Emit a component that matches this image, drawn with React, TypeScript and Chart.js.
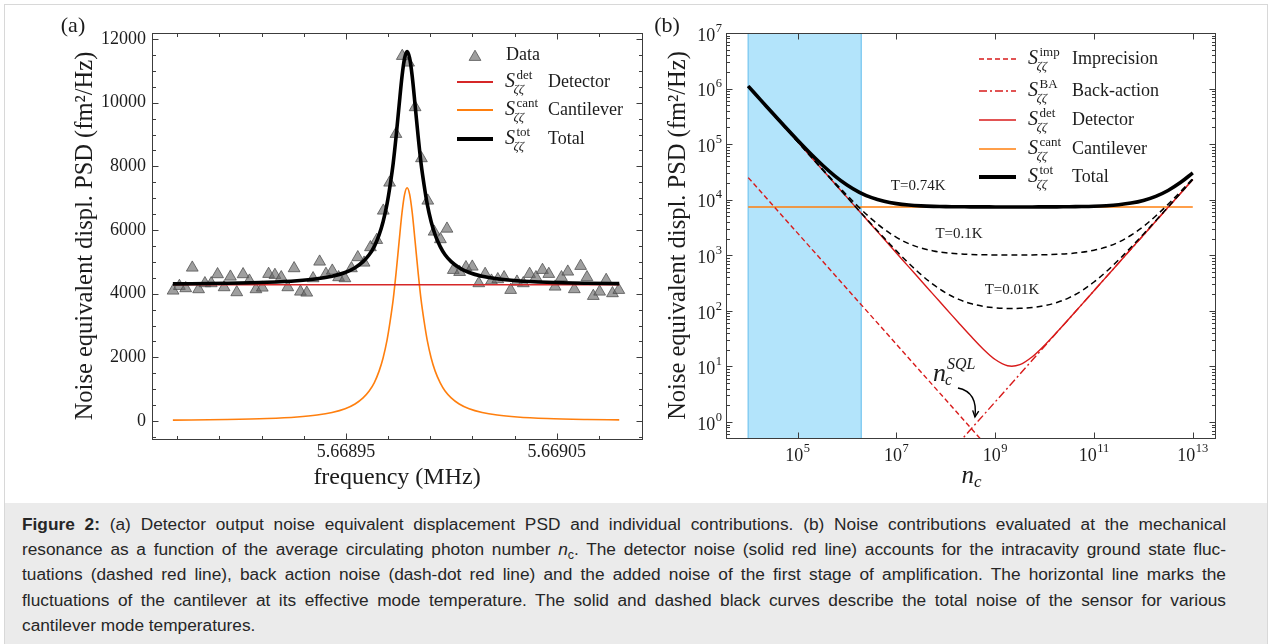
import React, { useEffect, useRef } from "react";
import { Chart, registerables } from "chart.js";

Chart.register(...registerables);

// ================= Panel (a) data =================
const dataFreq = [
  5.668868, 5.668871, 5.668874, 5.6688771, 5.6688801, 5.6688831, 5.6688861, 5.6688891, 5.6688922, 5.6688952,
  5.6688982, 5.6689012, 5.6689042, 5.6689073, 5.6689103, 5.6689133, 5.6689163, 5.6689193, 5.6689224, 5.6689254,
  5.6689284, 5.6689314, 5.6689344, 5.6689375, 5.6689405, 5.6689435, 5.6689465, 5.6689495, 5.6689526, 5.6689556,
  5.6689586, 5.6689616, 5.6689646, 5.6689677, 5.6689707, 5.6689737, 5.6689767, 5.6689797, 5.6689828, 5.6689858,
  5.6689888, 5.6689918, 5.6689948, 5.6689979, 5.6690009, 5.6690039, 5.6690069, 5.6690099, 5.669013, 5.669016,
  5.669019, 5.669022, 5.669025, 5.6690281, 5.6690311, 5.6690341, 5.6690371, 5.6690401, 5.6690432, 5.6690462,
  5.6690492, 5.6690522, 5.6690552, 5.6690583, 5.6690613, 5.6690643, 5.6690673, 5.6690703, 5.6690734, 5.6690764,
  5.6690794,
];
const dataPsd = [
  4094, 4241, 4169, 4816, 4137, 4326, 4326, 4609, 4200, 4534,
  4043, 4609, 4408, 4137, 4188, 4619, 4587, 4515, 4200, 4797,
  4062, 4031, 4483, 5005, 4619, 4722, 4515, 4483, 4797, 5143,
  4973, 5457, 5687, 6607, 7487, 9017, 11467, 11257, 9856, 8253,
  6921, 5947, 5709, 6041, 4744, 4680, 4830, 4848, 4326, 4619,
  4408, 4452, 4515, 4116, 4376, 4326, 4619, 4515, 4744, 4619,
  4219, 4515, 4691, 4138, 4870, 4515, 3927, 4062, 4430, 4012,
  4116,
];
const fitFreq = [
  5.6688679, 5.6688936, 5.6689126, 5.6689268, 5.6689363, 5.6689434, 5.6689496, 5.6689543, 5.6689581, 5.668961,
  5.6689634, 5.6689657, 5.6689676, 5.6689695, 5.6689709, 5.6689724, 5.6689738, 5.6689752, 5.6689766, 5.6689778,
  5.668979,
  5.6689802, 5.6689814, 5.6689828, 5.6689842, 5.6689856, 5.6689871, 5.6689885, 5.6689904, 5.6689923, 5.6689947,
  5.668997, 5.6689999, 5.6690037, 5.6690084, 5.6690146, 5.6690217, 5.6690312, 5.6690454, 5.6690644, 5.6690796,
];
const fitCantilever = [
  28.4, 47.9, 78.9, 126.9, 188, 267.6, 385.2, 535.4, 727, 942.9,
  1200, 1567, 1980, 2548, 3111, 3819, 4676, 5637, 6560, 7121,
  7330,
  7121, 6560, 5637, 4676, 3819, 3111, 2548, 1980, 1567, 1200,
  942.9, 727, 535.4, 385.2, 267.6, 188, 126.9, 78.9, 47.9, 34.6,
];
const fitTotal = [
  4308, 4328, 4359, 4407, 4468, 4548, 4665, 4815, 5007, 5223,
  5480, 5847, 6260, 6828, 7391, 8099, 8956, 9917, 10840, 11401,
  11610,
  11401, 10840, 9917, 8956, 8099, 7391, 6828, 6260, 5847, 5480,
  5223, 5007, 4815, 4665, 4548, 4468, 4407, 4359, 4328, 4315,
];
const detectorFreq = [5.668868, 5.6690796];
const detectorPsd = [4280, 4280];
const aXTicks = [5.66895, 5.66905];
const aXMinor = [5.66887, 5.66889, 5.66891, 5.66893, 5.66897, 5.66899, 5.66901, 5.66903, 5.66907];
const aYTicks = [0, 2000, 4000, 6000, 8000, 10000, 12000];
const aYMinor = [-500, 500, 1000, 1500, 2500, 3000, 3500, 4500, 5000, 5500, 6500, 7000, 7500, 8500, 9000, 9500, 10500, 11000, 11500];

// ================= Panel (b) data =================
const ncGrid = [
  1e4, 1.778e4, 3.162e4, 5.623e4, 1e5, 1.778e5, 3.162e5, 5.623e5, 1e6, 1.778e6,
  3.162e6, 5.623e6, 1e7, 1.778e7, 3.162e7, 5.623e7, 1e8, 1.778e8, 3.162e8, 5.623e8,
  1e9, 1.778e9, 3.162e9, 5.623e9, 1e10, 1.778e10, 3.162e10, 5.623e10, 1e11, 1.778e11,
  3.162e11, 5.623e11, 1e12, 1.778e12, 3.162e12, 5.623e12, 1e13,
];
const sDetector = [
  1.1e6, 6.19e5, 3.48e5, 1.956e5, 1.1e5, 6.19e4, 3.48e4, 1.956e4, 1.1e4, 6185,
  3479, 1956, 1100, 618.5, 348, 195.7, 110.2, 62.26, 35.5, 20.85,
  13.3, 10.28, 10.75, 14.89, 24.1, 41.5, 73.1, 129.5, 230.1, 409,
  727, 1293, 2300, 4090, 7273, 12934, 23000,
];
const sTotal074 = [
  1107400, 625900, 355300, 203000, 117400, 69250, 42190, 26960, 18400, 13585,
  10879, 9356, 8500, 8018, 7748, 7596, 7510, 7462, 7436, 7421,
  7413, 7410, 7411, 7415, 7424, 7442, 7473, 7530, 7630, 7809,
  8127, 8693, 9700, 11490, 14673, 20334, 30400,
];
const sTotal01 = [
  1101000, 619500, 348900, 196600, 111000, 62850, 35790, 20560, 12000, 7185,
  4479, 2956, 2100, 1618, 1348, 1196, 1110, 1062, 1036, 1021,
  1013, 1010, 1011, 1015, 1024, 1042, 1073, 1130, 1230, 1409,
  1727, 2293, 3300, 5090, 8273, 13934, 24000,
];
const sTotal001 = [
  1100100, 618600, 348000, 195700, 110100, 61950, 34890, 19660, 11100, 6285,
  3579, 2056, 1200, 718.5, 448, 295.7, 210.2, 162.3, 135.5, 120.9,
  113.3, 110.3, 110.8, 114.9, 124.1, 141.5, 173.1, 229.5, 330.1, 509,
  827, 1393, 2400, 4190, 7373, 13034, 23100,
];
const impNc = [1e4, 1e9];
const impS = [2.5e4, 0.25];
const baNc = [1e8, 1e13];
const baS = [0.23, 23000];
const cantNc = [1e4, 1e13];
const cantS = [7400, 7400];
const bandNc = [1e4, 1.94e6];
const bXTicks = [1e5, 1e7, 1e9, 1e11, 1e13];
const bXExp = ["5", "7", "9", "11", "13"];
const bYTicks = [1, 10, 100, 1e3, 1e4, 1e5, 1e6, 1e7];
const bYExp = ["0", "1", "2", "3", "4", "5", "6", "7"];
const bYMinor: number[] = [0.6, 0.7, 0.8, 0.9];
for (let d = 0; d < 7; d++) for (let m = 2; m < 10; m++) bYMinor.push(m * Math.pow(10, d));

// ================= helpers =================
const SERIF = '"Liberation Serif", "Times New Roman", serif';
const INK = "#1c1c1c";
const RED_A = "#d62728";
const RED_B = "#d81b1b";
const ORANGE = "#ff7f0e";
const TRI_FILL = "rgba(100,100,100,0.62)";
const TRI_EDGE = "rgba(75,75,75,0.75)";

function setFont(ctx: CanvasRenderingContext2D, size: number, style = "") {
  ctx.font = `${style} ${size}px ${SERIF}`.trim();
}

function pts(xs: number[], ys: number[]) {
  return xs.map((x, i) => ({ x, y: ys[i] }));
}

function drawFrame(chart: any, xMaj: number[], xMin: number[], yMaj: number[], yMin: number[]) {
  const { ctx, chartArea: a, scales } = chart;
  const xs = scales.x;
  const ys = scales.y;
  const L = Math.round(a.left) + 0.5;
  const R = Math.round(a.right) + 0.5;
  const T = Math.round(a.top) + 0.5;
  const B = Math.round(a.bottom) + 0.5;
  ctx.save();
  ctx.strokeStyle = "#3c3c3c";
  ctx.lineWidth = 1;
  ctx.strokeRect(L, T, R - L, B - T);
  ctx.beginPath();
  const xt = (vals: number[], len: number) => {
    vals.forEach((v) => {
      const p = Math.round(xs.getPixelForValue(v)) + 0.5;
      if (p <= L + 1 || p >= R - 1) return;
      ctx.moveTo(p, B); ctx.lineTo(p, B - len);
      ctx.moveTo(p, T); ctx.lineTo(p, T + len);
    });
  };
  const yt = (vals: number[], len: number) => {
    vals.forEach((v) => {
      const p = Math.round(ys.getPixelForValue(v)) + 0.5;
      if (p <= T + 1 || p >= B - 1) return;
      ctx.moveTo(L, p); ctx.lineTo(L + len, p);
      ctx.moveTo(R, p); ctx.lineTo(R - len, p);
    });
  };
  xt(xMaj, 6); xt(xMin, 3.5); yt(yMaj, 6); yt(yMin, 3.5);
  ctx.stroke();
  ctx.restore();
}

function drawS(ctx: CanvasRenderingContext2D, x: number, y: number, sup: string) {
  ctx.textAlign = "left";
  ctx.textBaseline = "middle";
  setFont(ctx, 20, "italic");
  ctx.fillText("S", x, y);
  const w = ctx.measureText("S").width;
  setFont(ctx, 13);
  ctx.fillText(sup, x + w + 1.5, y - 6.5);
  setFont(ctx, 13, "italic");
  ctx.fillText("ζζ", x + w - 1.5, y + 7.5);
}

function drawPow(ctx: CanvasRenderingContext2D, x: number, y: number, exp: string, align: "right" | "center") {
  setFont(ctx, 18);
  const wb = ctx.measureText("10").width;
  setFont(ctx, 12.5);
  const we = ctx.measureText(exp).width;
  const total = wb + we + 0.5;
  const x0 = align === "right" ? x - total : x - total / 2;
  ctx.textAlign = "left";
  ctx.textBaseline = "middle";
  setFont(ctx, 18);
  ctx.fillText("10", x0, y + 3);
  setFont(ctx, 12.5);
  ctx.fillText(exp, x0 + wb + 0.5, y - 4.5);
}

function triangle(ctx: CanvasRenderingContext2D, x: number, y: number, r: number) {
  ctx.beginPath();
  ctx.moveTo(x, y - r);
  ctx.lineTo(x + r * 0.866, y + r * 0.5);
  ctx.lineTo(x - r * 0.866, y + r * 0.5);
  ctx.closePath();
  ctx.fillStyle = TRI_FILL;
  ctx.fill();
  ctx.strokeStyle = TRI_EDGE;
  ctx.lineWidth = 1;
  ctx.stroke();
}

function legendLine(ctx: CanvasRenderingContext2D, x1: number, x2: number, y: number, color: string, w: number, dash: number[] = []) {
  ctx.save();
  ctx.strokeStyle = color;
  ctx.lineWidth = w;
  ctx.setLineDash(dash);
  ctx.beginPath();
  ctx.moveTo(x1, y);
  ctx.lineTo(x2, y);
  ctx.stroke();
  ctx.restore();
}

// ================= plugins =================
const panelAPlugin = {
  id: "panelA",
  afterDatasetsDraw(chart: any) {
    drawFrame(chart, aXTicks, aXMinor, aYTicks, aYMinor);
  },
  afterDraw(chart: any) {
    const { ctx, chartArea: a, scales } = chart;
    const xs = scales.x;
    const ys = scales.y;
    ctx.save();
    ctx.fillStyle = INK;
    setFont(ctx, 18);
    ctx.textAlign = "right";
    ctx.textBaseline = "middle";
    aYTicks.forEach((v) => ctx.fillText(String(v), a.left - 6, ys.getPixelForValue(v)));
    ctx.textAlign = "center";
    aXTicks.forEach((v) => ctx.fillText(v.toFixed(5), xs.getPixelForValue(v), a.bottom + 13));
    setFont(ctx, 24);
    ctx.fillText("frequency (MHz)", (a.left + a.right) / 2, a.bottom + 39);
    ctx.save();
    ctx.translate(86, (a.top + a.bottom) / 2);
    ctx.rotate(-Math.PI / 2);
    setFont(ctx, 24.5);
    ctx.fillText("Noise equivalent displ. PSD (fm²/Hz)", 0, 0);
    ctx.restore();
    setFont(ctx, 22);
    ctx.fillText("(a)", 73, 26);

    // legend
    triangle(ctx, 475, 57, 6.8);
    ctx.fillStyle = INK;
    setFont(ctx, 18);
    ctx.textAlign = "left";
    ctx.fillText("Data", 506, 55);
    const rows: [number, string, string, string, number][] = [
      [82, RED_A, "det", "Detector", 1.8],
      [110, ORANGE, "cant", "Cantilever", 1.8],
      [139, "#000", "tot", "Total", 4],
    ];
    rows.forEach(([y, c, sup, lab, w]) => {
      legendLine(ctx, 457, 493, y, c, w);
      ctx.fillStyle = INK;
      drawS(ctx, 505, y, sup);
      setFont(ctx, 18);
      ctx.textAlign = "left";
      ctx.fillText(lab, 548, y);
    });
    ctx.restore();
  },
};

const LX = (v: number) => Math.pow(10, v);

const panelBPlugin = {
  id: "panelB",
  beforeDatasetsDraw(chart: any) {
    const { ctx, chartArea: a, scales } = chart;
    const xs = scales.x;
    const l = xs.getPixelForValue(bandNc[0]);
    const r = xs.getPixelForValue(bandNc[1]);
    ctx.save();
    ctx.fillStyle = "#b3e4fb";
    ctx.fillRect(l, a.top, r - l, a.bottom - a.top);
    ctx.strokeStyle = "#86cdf2";
    ctx.lineWidth = 1.5;
    ctx.beginPath();
    ctx.moveTo(l, a.top); ctx.lineTo(l, a.bottom);
    ctx.moveTo(r, a.top); ctx.lineTo(r, a.bottom);
    ctx.stroke();
    ctx.restore();
  },
  afterDatasetsDraw(chart: any) {
    drawFrame(chart, bXTicks, [], bYTicks, bYMinor);
  },
  afterDraw(chart: any) {
    const { ctx, chartArea: a, scales } = chart;
    const xs = scales.x;
    const ys = scales.y;
    const P = (lx: number, ly: number) => [xs.getPixelForValue(LX(lx)), ys.getPixelForValue(LX(ly))];
    ctx.save();
    ctx.fillStyle = INK;
    bYTicks.forEach((v, i) => drawPow(ctx, a.left - 4, ys.getPixelForValue(v), bYExp[i], "right"));
    bXTicks.forEach((v, i) => drawPow(ctx, xs.getPixelForValue(v), a.bottom + 15, bXExp[i], "center"));

    // x title n_c
    const cx = (a.left + a.right) / 2;
    setFont(ctx, 25, "italic");
    ctx.textAlign = "left";
    ctx.textBaseline = "middle";
    const wn = ctx.measureText("n").width;
    ctx.fillText("n", cx - 9, a.bottom + 38);
    setFont(ctx, 17, "italic");
    ctx.fillText("c", cx - 9 + wn, a.bottom + 45);

    // y title
    setFont(ctx, 24.5);
    ctx.textAlign = "center";
    ctx.save();
    ctx.translate(29, (a.top + a.bottom) / 2);
    ctx.rotate(-Math.PI / 2);
    ctx.fillText("Noise equivalent displ. PSD (fm²/Hz)", 0, 0);
    ctx.restore();
    setFont(ctx, 22);
    ctx.fillText("(b)", 17, 26);

    // temperature labels
    setFont(ctx, 15);
    ctx.textAlign = "center";
    const t1 = P(7.44, 4.247);
    ctx.fillText("T=0.74K", t1[0], t1[1]);
    const t2 = P(8.267, 3.383);
    ctx.fillText("T=0.1K", t2[0], t2[1]);
    const t3 = P(9.34, 2.375);
    ctx.fillText("T=0.01K", t3[0], t3[1]);

    // n_c^SQL annotation
    const nq = P(7.74, 0.864);
    ctx.textAlign = "left";
    setFont(ctx, 26, "italic");
    const wq = ctx.measureText("n").width;
    ctx.fillText("n", nq[0], nq[1]);
    setFont(ctx, 16, "italic");
    ctx.fillText("c", nq[0] + wq - 1, nq[1] + 7);
    ctx.fillText("SQL", nq[0] + wq + 1, nq[1] - 9);

    // arrow
    const s = P(8.246, 0.612);
    const c = P(8.651, 0.54);
    const e = P(8.59, 0.09);
    ctx.strokeStyle = "#000";
    ctx.lineWidth = 1.4;
    ctx.beginPath();
    ctx.moveTo(s[0], s[1]);
    ctx.quadraticCurveTo(c[0], c[1], e[0], e[1]);
    ctx.stroke();
    const ang = Math.atan2(e[1] - c[1], e[0] - c[0]);
    ctx.beginPath();
    ctx.moveTo(e[0] - 7 * Math.cos(ang - 0.45), e[1] - 7 * Math.sin(ang - 0.45));
    ctx.lineTo(e[0], e[1]);
    ctx.lineTo(e[0] - 7 * Math.cos(ang + 0.45), e[1] - 7 * Math.sin(ang + 0.45));
    ctx.stroke();

    // legend
    const rows: [number, string, number, number[], string, string][] = [
      [59, RED_B, 1.5, [5, 3], "imp", "Imprecision"],
      [91, RED_B, 1.5, [8, 3, 2, 3], "BA", "Back-action"],
      [120, RED_B, 1.5, [], "det", "Detector"],
      [149, ORANGE, 1.5, [], "cant", "Cantilever"],
      [177, "#000", 4, [], "tot", "Total"],
    ];
    rows.forEach(([y, col, w, dash, sup, lab]) => {
      legendLine(ctx, 329, 366, y, col, w, dash);
      ctx.fillStyle = INK;
      drawS(ctx, 378, y, sup);
      setFont(ctx, 18);
      ctx.textAlign = "left";
      ctx.fillText(lab, 422, y);
    });
    ctx.restore();
  },
};

function hiddenAxis(extra: any, fit: (s: any) => void) {
  return {
    ...extra,
    ticks: { display: false },
    grid: { display: false, drawTicks: false },
    border: { display: false },
    afterFit: fit,
  };
}

export default function App() {
  const refA = useRef<HTMLCanvasElement>(null);
  const refB = useRef<HTMLCanvasElement>(null);

  useEffect(() => {
    const line = (data: any, color: string, width: number, extra: any = {}) => ({
      data,
      borderColor: color,
      backgroundColor: color,
      borderWidth: width,
      pointRadius: 0,
      fill: false,
      ...extra,
    });

    const chartA = new Chart(refA.current as HTMLCanvasElement, {
      type: "line",
      data: {
        datasets: [
          line(pts(fitFreq, fitTotal), "#000", 3.6, { cubicInterpolationMode: "monotone" }),
          line(pts(detectorFreq, detectorPsd), RED_A, 1.6),
          line(pts(fitFreq, fitCantilever), ORANGE, 1.6, { cubicInterpolationMode: "monotone" }),
          {
            data: pts(dataFreq, dataPsd),
            showLine: false,
            pointStyle: "triangle",
            pointRadius: 6.8,
            pointBackgroundColor: TRI_FILL,
            pointBorderColor: TRI_EDGE,
            pointBorderWidth: 1,
          },
        ] as any,
      },
      options: {
        responsive: false,
        animation: false,
        devicePixelRatio: 1,
        layout: { padding: { top: 33, right: 8, left: 0, bottom: 0 } },
        plugins: { legend: { display: false }, tooltip: { enabled: false } },
        scales: {
          x: hiddenAxis({ type: "linear", min: 5.668858, max: 5.6690904 }, (s: any) => { s.height = 61; }),
          y: hiddenAxis({ type: "linear", min: -565, max: 12190 }, (s: any) => { s.width = 152; }),
        },
      } as any,
      plugins: [panelAPlugin],
    });

    const smooth = { tension: 0.35 };
    const chartB = new Chart(refB.current as HTMLCanvasElement, {
      type: "line",
      data: {
        datasets: [
          line(pts(ncGrid, sTotal074), "#000", 3.6, smooth),
          line(pts(ncGrid, sTotal01), "#000", 1.5, { ...smooth, borderDash: [6, 4] }),
          line(pts(ncGrid, sTotal001), "#000", 1.5, { ...smooth, borderDash: [6, 4] }),
          line(pts(ncGrid, sDetector), RED_B, 1.4, smooth),
          line(pts(baNc, baS), RED_B, 1.4, { borderDash: [8, 3, 2, 3] }),
          line(pts(impNc, impS), RED_B, 1.4, { borderDash: [5, 3] }),
          line(pts(cantNc, cantS), ORANGE, 1.6),
        ] as any,
      },
      options: {
        responsive: false,
        animation: false,
        devicePixelRatio: 1,
        layout: { padding: { top: 33, right: 57, left: 0, bottom: 0 } },
        plugins: { legend: { display: false }, tooltip: { enabled: false } },
        scales: {
          x: hiddenAxis({ type: "logarithmic", min: 3548, max: 2.818e13 }, (s: any) => { s.height = 62; }),
          y: hiddenAxis({ type: "logarithmic", min: 0.515, max: 1e7 }, (s: any) => { s.width = 76; }),
        },
      } as any,
      plugins: [panelBPlugin],
    });

    return () => {
      chartA.destroy();
      chartB.destroy();
    };
  }, []);

  const capFont: React.CSSProperties = {
    fontFamily: '"Liberation Sans", Arial, sans-serif',
    fontSize: "17.3px",
    color: "#262626",
    height: 25.2,
    lineHeight: "25.2px",
    whiteSpace: "nowrap",
    width: 1204,
  };
  const just: React.CSSProperties = { ...capFont, textAlign: "justify", textAlignLast: "justify" as any };
  const sub: React.CSSProperties = { fontSize: "0.72em", verticalAlign: "-0.3em", lineHeight: 0 };

  return (
    <div style={{ position: "absolute", left: 0, top: 0, width: 1272, height: 644, background: "#fff", overflow: "hidden" }}>
      <div style={{ position: "absolute", left: 4, top: 4, width: 1264, height: 700, border: "1px solid #d8d8d8", boxSizing: "border-box" }} />
      <div style={{ position: "absolute", left: 5, top: 503, width: 1262, height: 141, background: "#ebebeb" }} />
      <canvas ref={refA} width={650} height={500} style={{ position: "absolute", left: 0, top: 0, width: 650, height: 500 }} />
      <canvas ref={refB} width={622} height={500} style={{ position: "absolute", left: 650, top: 0, width: 622, height: 500 }} />
      <div style={{ position: "absolute", left: 22, top: 512 }}>
        <div style={just}>
          <b>Figure 2:</b> (a) Detector output noise equivalent displacement PSD and individual contributions. (b) Noise contributions evaluated at the mechanical
        </div>
        <div style={just}>
          resonance as a function of the average circulating photon number <i>n</i><span style={sub}>c</span>. The detector noise (solid red line) accounts for the intracavity ground state fluc-
        </div>
        <div style={just}>
          tuations (dashed red line), back action noise (dash-dot red line) and the added noise of the first stage of amplification. The horizontal line marks the
        </div>
        <div style={just}>
          fluctuations of the cantilever at its effective mode temperature. The solid and dashed black curves describe the total noise of the sensor for various
        </div>
        <div style={capFont}>cantilever mode temperatures.</div>
      </div>
    </div>
  );
}
